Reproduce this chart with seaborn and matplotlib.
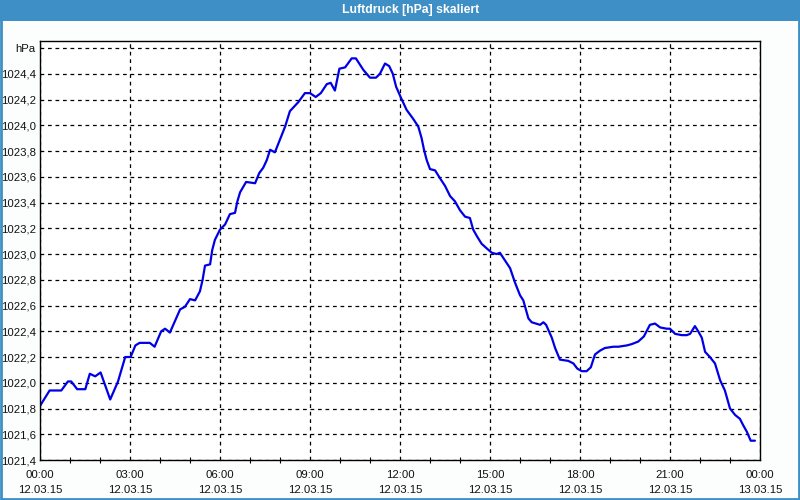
import matplotlib
matplotlib.use("Agg")
import matplotlib.pyplot as plt
import seaborn as sns
import pandas as pd
from matplotlib.patches import Rectangle

# ---- data ----
hours = [0.0, 0.32, 0.71, 0.93, 1.04, 1.24, 1.51, 1.66, 1.84, 2.02, 2.34, 2.60, 2.84, 3.02,
         3.18, 3.32, 3.66, 3.82, 4.04, 4.17, 4.33, 4.67, 4.83, 5.00, 5.17, 5.33, 5.42, 5.50,
         5.67, 5.74, 5.83, 6.00, 6.17, 6.33, 6.50, 6.58, 6.67, 6.87, 7.17, 7.31, 7.44, 7.56,
         7.67, 7.83, 8.17, 8.33, 8.61, 8.83, 9.00, 9.19, 9.36, 9.56, 9.69, 9.83, 9.98, 10.17,
         10.39, 10.53, 10.78, 11.00, 11.20, 11.33, 11.50, 11.64, 11.76, 11.87, 12.04, 12.22,
         12.44, 12.61, 12.72, 12.80, 12.89, 13.00, 13.17, 13.33, 13.50, 13.67, 13.83, 14.00,
         14.17, 14.33, 14.44, 14.56, 14.72, 14.91, 15.06, 15.22, 15.33, 15.50, 15.67, 15.83,
         16.00, 16.11, 16.28, 16.39, 16.67, 16.78, 16.87, 17.06, 17.17, 17.33, 17.61, 17.78,
         17.91, 18.06, 18.22, 18.36, 18.50, 18.67, 18.83, 19.11, 19.28, 19.56, 19.72, 19.94,
         20.13, 20.33, 20.50, 20.67, 20.89, 21.00, 21.17, 21.39, 21.56, 21.67, 21.83, 21.94,
         22.06, 22.17, 22.33, 22.50, 22.67, 22.83, 23.00, 23.17, 23.33, 23.44, 23.56, 23.69,
         23.83]
pressure = [1021.82, 1021.94, 1021.94, 1022.01, 1022.01, 1021.95, 1021.95, 1022.07, 1022.05,
            1022.08, 1021.87, 1022.01, 1022.20, 1022.20, 1022.29, 1022.31, 1022.31, 1022.28,
            1022.40, 1022.42, 1022.39, 1022.57, 1022.59, 1022.65, 1022.64, 1022.71, 1022.80,
            1022.91, 1022.92, 1023.03, 1023.11, 1023.19, 1023.23, 1023.31, 1023.32, 1023.41,
            1023.48, 1023.56, 1023.55, 1023.63, 1023.67, 1023.73, 1023.81, 1023.79, 1023.99,
            1024.11, 1024.18, 1024.25, 1024.25, 1024.22, 1024.25, 1024.32, 1024.33, 1024.27,
            1024.44, 1024.45, 1024.52, 1024.52, 1024.43, 1024.37, 1024.37, 1024.40, 1024.48,
            1024.46, 1024.40, 1024.30, 1024.21, 1024.12, 1024.05, 1023.99, 1023.90, 1023.81,
            1023.73, 1023.66, 1023.65, 1023.59, 1023.53, 1023.45, 1023.41, 1023.34, 1023.29,
            1023.28, 1023.19, 1023.14, 1023.08, 1023.04, 1023.01, 1023.00, 1023.01, 1022.95,
            1022.89, 1022.78, 1022.68, 1022.64, 1022.50, 1022.47, 1022.45, 1022.47, 1022.45,
            1022.35, 1022.27, 1022.18, 1022.17, 1022.15, 1022.11, 1022.09, 1022.09, 1022.12,
            1022.22, 1022.25, 1022.27, 1022.28, 1022.28, 1022.29, 1022.30, 1022.32, 1022.36,
            1022.45, 1022.46, 1022.43, 1022.42, 1022.42, 1022.38, 1022.37, 1022.37, 1022.38,
            1022.44, 1022.40, 1022.35, 1022.24, 1022.20, 1022.15, 1022.02, 1021.94, 1021.80,
            1021.75, 1021.72, 1021.67, 1021.62, 1021.55, 1021.55]

x_ticks = [0, 3, 6, 9, 12, 15, 18, 21, 24]
x_labels = ["00:00\n12.03.15", "03:00\n12.03.15", "06:00\n12.03.15", "09:00\n12.03.15",
            "12:00\n12.03.15", "15:00\n12.03.15", "18:00\n12.03.15", "21:00\n12.03.15",
            "00:00\n13.03.15"]
y_ticks = [1021.4, 1021.6, 1021.8, 1022.0, 1022.2, 1022.4, 1022.6, 1022.8, 1023.0,
           1023.2, 1023.4, 1023.6, 1023.8, 1024.0, 1024.2, 1024.4, 1024.6]
y_labels = ["1021,4", "1021,6", "1021,8", "1022,0", "1022,2", "1022,4", "1022,6", "1022,8",
            "1023,0", "1023,2", "1023,4", "1023,6", "1023,8", "1024,0", "1024,2", "1024,4", "hPa"]
title = "Luftdruck [hPa] skaliert"

df = pd.DataFrame({"h": hours, "p": pressure})

sns.set_theme(style="white")
plt.rcParams["font.family"] = ["Liberation Sans", "DejaVu Sans"]

BLUE = "#3d8fc6"
fig = plt.figure(figsize=(8, 5), dpi=100)
fig.patch.set_facecolor("#fbfefc")
ax = fig.add_axes([40 / 800, 40 / 500, 720 / 800, 419 / 500])
ax.set_facecolor("white")

sns.lineplot(data=df, x="h", y="p", ax=ax, color="#0000e6", linewidth=1.6)

ax.set_xlim(0, 24)
ax.set_ylim(1021.4, 1024.655)
ax.set_xticks(x_ticks)
ax.set_xticklabels(x_labels, fontsize=8.2, color="#111111", linespacing=1.6)
ax.set_xticks([h for h in range(25) if h % 3 != 0], minor=True)
ax.set_yticks(y_ticks)
ax.set_yticklabels(y_labels, fontsize=8.2, color="#111111")
ax.tick_params(axis="x", which="major", direction="inout", length=5, width=0.8, color="black", pad=5)
ax.tick_params(axis="x", which="minor", direction="inout", length=5, width=0.8, color="black", bottom=True)
ax.tick_params(axis="y", length=0, pad=3)
ax.grid(True, which="major", color="black", linestyle=(0, (3, 3)), linewidth=0.9)
ax.set_xlabel("")
ax.set_ylabel("")
for s in ax.spines.values():
    s.set_color("black")
    s.set_linewidth(1.0)

# title bar and frame
fig.patches.append(Rectangle((0, 479 / 500), 1, 21 / 500, transform=fig.transFigure,
                             facecolor=BLUE, edgecolor="none", zorder=0))
fig.patches.append(Rectangle((0.001, 0.002), 0.998, 0.996, transform=fig.transFigure,
                             facecolor="none", edgecolor=BLUE, linewidth=2, zorder=1))
fig.text(411 / 800, 490 / 500, title, ha="center", va="center", color="white",
         fontsize=8.8, fontweight="bold")

fig.savefig("out.png", dpi=100, facecolor=fig.get_facecolor())
